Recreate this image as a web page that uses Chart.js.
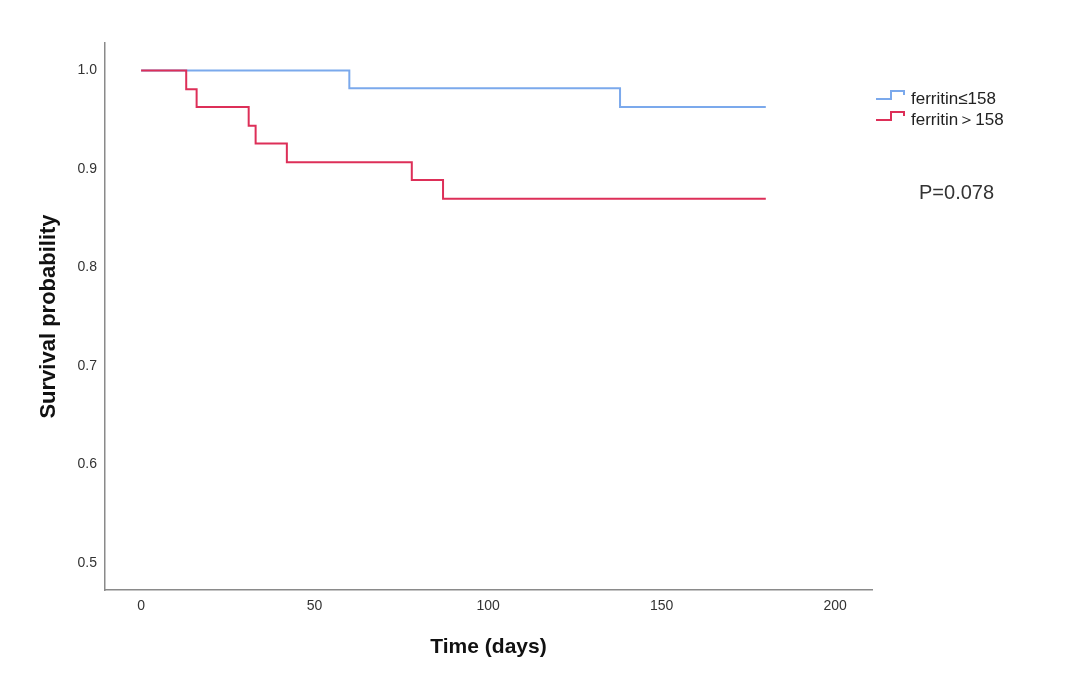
<!DOCTYPE html>
<html>
<head>
<meta charset="utf-8">
<script src="https://cdn.jsdelivr.net/npm/chart.js@4"></script>
<style>
  body { margin: 0; background: #fff; }
</style>
</head>
<body>
<canvas id="km" width="1080" height="675"></canvas>
<script>
// Kaplan-Meier curves
const lowTimes = [0, 60, 138, 180];
const lowSurv = [1.0, 0.982, 0.963, 0.963];
const highTimes = [0, 13, 16, 31, 33, 42, 78, 87, 180];
const highSurv = [1.0, 0.981, 0.963, 0.944, 0.926, 0.907, 0.889, 0.870, 0.870];

const xTicks = [0, 50, 100, 150, 200];
const yTicks = [0.5, 0.6, 0.7, 0.8, 0.9, 1.0];

const seriesNames = ['ferritin≤158', 'ferritin＞158'];
const seriesColors = ['#7ba9ec', '#dd2f58'];
const pText = 'P=0.078';

const FONT = '"Liberation Sans", Arial, sans-serif';
Chart.defaults.font.family = FONT;

const toPts = (t, s) => t.map((x, i) => ({x: x, y: s[i]}));

// legend with little step icons + p-value, drawn beside the plot
const sideNotes = {
  id: 'sideNotes',
  afterDraw(chart) {
    const ctx = chart.ctx;
    ctx.save();
    ctx.lineWidth = 2;
    ctx.textBaseline = 'middle';
    ctx.font = '17px ' + FONT;
    seriesNames.forEach((name, i) => {
      const y = 99 + i * 21;
      ctx.strokeStyle = seriesColors[i];
      ctx.beginPath();
      ctx.moveTo(876, y);
      ctx.lineTo(891, y);
      ctx.lineTo(891, y - 8);
      ctx.lineTo(904, y - 8);
      ctx.lineTo(904, y - 4);
      ctx.stroke();
      ctx.fillStyle = '#222';
      ctx.fillText(name, 911, y);
    });
    ctx.font = '20px ' + FONT;
    ctx.fillStyle = '#333';
    ctx.fillText(pText, 919, 193);
    ctx.restore();
  }
};

new Chart(document.getElementById('km').getContext('2d'), {
  type: 'line',
  data: {
    datasets: [
      {
        label: seriesNames[0],
        data: toPts(lowTimes, lowSurv),
        borderColor: seriesColors[0],
        borderWidth: 2,
        stepped: 'before',
        pointRadius: 0,
        fill: false,
        order: 1
      },
      {
        label: seriesNames[1],
        data: toPts(highTimes, highSurv),
        borderColor: seriesColors[1],
        borderWidth: 2,
        stepped: 'before',
        pointRadius: 0,
        fill: false,
        order: 0
      }
    ]
  },
  options: {
    responsive: false,
    animation: false,
    layout: { padding: { left: 0, top: 43, right: 208, bottom: 0 } },
    plugins: {
      legend: { display: false },
      tooltip: { enabled: false }
    },
    scales: {
      x: {
        type: 'linear',
        min: -10.4,
        max: 210.6,
        afterBuildTicks: s => { s.ticks = xTicks.map(v => ({value: v})); },
        afterFit: s => { s.height = 85; },
        grid: { display: false, drawTicks: false },
        border: { display: true, color: '#8a8a8a', width: 1.5 },
        ticks: { color: '#333', font: { size: 14 }, padding: 8, maxRotation: 0 },
        title: {
          display: true,
          text: 'Time (days)',
          color: '#111',
          font: { size: 21, weight: 'bold' },
          padding: { top: 0, bottom: 14.9 }
        }
      },
      y: {
        min: 0.4727,
        max: 1.028,
        afterBuildTicks: s => { s.ticks = yTicks.map(v => ({value: v})); },
        afterFit: s => { s.width = 105; },
        grid: { display: false, drawTicks: false },
        border: { display: true, color: '#8a8a8a', width: 1.5 },
        ticks: { color: '#333', font: { size: 14 }, padding: 8, callback: v => v.toFixed(1) },
        title: {
          display: true,
          text: 'Survival probability',
          color: '#111',
          font: { size: 22, weight: 'bold' },
          padding: { top: 35.8, bottom: 0 }
        }
      }
    }
  },
  plugins: [sideNotes]
});
</script>
</body>
</html>
